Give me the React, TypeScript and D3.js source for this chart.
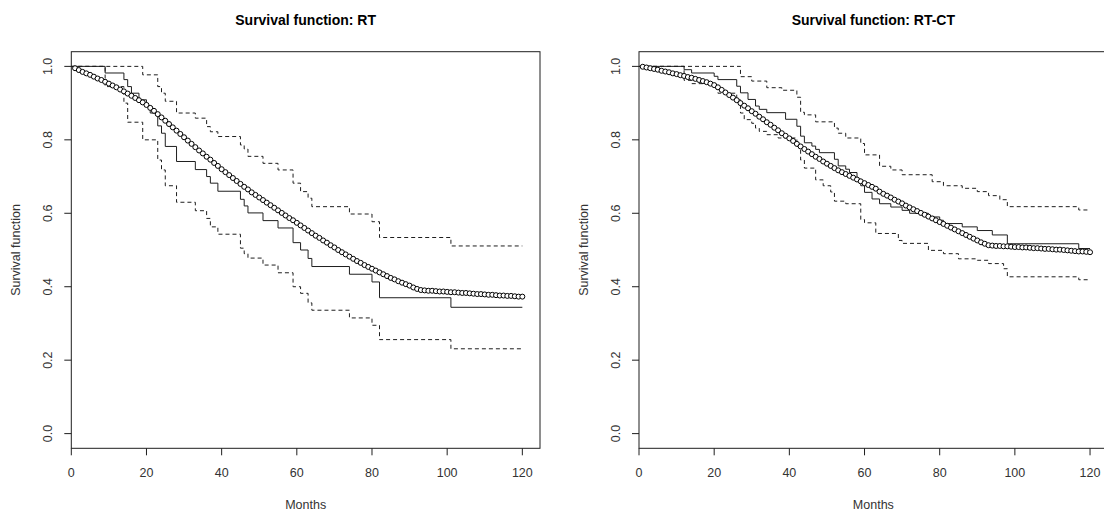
import React from "react";
import * as d3 from "d3";

// ---------- DATA ----------
const xTicks = [0, 20, 40, 60, 80, 100, 120];
const yTicks = [0, 0.2, 0.4, 0.6, 0.8, 1.0];
const titles = ["Survival function: RT", "Survival function: RT-CT"];
const xLabel = "Months";
const yLabel = "Survival function";

// RT: Kaplan-Meier estimate (step times, value after step)
const rtKmTime = [0, 9, 14, 15, 16, 18, 20, 21, 23, 24, 25, 28, 33, 36, 37, 39, 45, 46, 47, 51, 55, 59, 61, 63, 64, 74, 80, 82, 101, 120];
const rtKmSurv = [1, 0.982, 0.964, 0.945, 0.927, 0.909, 0.891, 0.873, 0.838, 0.818, 0.782, 0.741, 0.719, 0.7, 0.682, 0.66, 0.638, 0.62, 0.601, 0.58, 0.56, 0.52, 0.5, 0.477, 0.455, 0.434, 0.413, 0.37, 0.344, 0.344];
const rtUpTime = [0, 19, 23, 24, 25, 28, 33, 36, 37, 39, 45, 46, 47, 51, 55, 59, 61, 63, 64, 74, 80, 82, 101, 120];
const rtUpSurv = [1, 0.977, 0.945, 0.927, 0.905, 0.873, 0.859, 0.836, 0.822, 0.809, 0.786, 0.775, 0.755, 0.736, 0.718, 0.682, 0.659, 0.641, 0.618, 0.598, 0.577, 0.534, 0.511, 0.511];
const rtLoTime = [0, 9, 14, 15, 19, 23, 24, 25, 28, 33, 36, 37, 39, 45, 46, 47, 51, 55, 59, 61, 63, 64, 74, 80, 82, 101, 120];
const rtLoSurv = [1, 0.945, 0.9, 0.848, 0.8, 0.745, 0.718, 0.675, 0.63, 0.607, 0.586, 0.563, 0.543, 0.505, 0.49, 0.478, 0.459, 0.438, 0.4, 0.382, 0.356, 0.336, 0.315, 0.295, 0.256, 0.231, 0.231];
// RT: fitted model, one point per month 1..120
const rtFit = [
  0.995, 0.99, 0.985, 0.981, 0.977, 0.972, 0.967, 0.963, 0.958, 0.953,
  0.948, 0.943, 0.937, 0.932, 0.926, 0.92, 0.914, 0.908, 0.902, 0.895,
  0.887, 0.879, 0.87, 0.861, 0.852, 0.843, 0.834, 0.825, 0.816, 0.807,
  0.798, 0.789, 0.78, 0.771, 0.763, 0.754, 0.746, 0.737, 0.729, 0.72,
  0.712, 0.704, 0.696, 0.688, 0.68, 0.672, 0.665, 0.657, 0.65, 0.643,
  0.636, 0.629, 0.622, 0.615, 0.608, 0.601, 0.594, 0.587, 0.581, 0.574,
  0.567, 0.56, 0.553, 0.546, 0.539, 0.533, 0.526, 0.52, 0.513, 0.507,
  0.5, 0.494, 0.488, 0.482, 0.476, 0.47, 0.465, 0.459, 0.454, 0.449,
  0.444, 0.439, 0.434, 0.429, 0.424, 0.42, 0.415, 0.411, 0.407, 0.403,
  0.398, 0.394, 0.391, 0.39, 0.389, 0.389, 0.388, 0.387, 0.387, 0.386,
  0.385, 0.385, 0.384, 0.383, 0.383, 0.382, 0.381, 0.38, 0.38, 0.379,
  0.378, 0.378, 0.377, 0.376, 0.376, 0.375, 0.375, 0.374, 0.373, 0.373,
];

// RT-CT
const ctKmTime = [0, 12, 14, 20, 21, 26, 27, 29, 31, 32, 34, 39, 42, 43, 44, 46, 47, 48, 52, 53, 55, 56, 58, 59, 60, 62, 64, 67, 70, 72, 77, 80, 81, 86, 90, 94, 98, 117, 120];
const ctKmSurv = [1, 0.991, 0.982, 0.973, 0.964, 0.946, 0.928, 0.91, 0.892, 0.883, 0.874, 0.856, 0.837, 0.81, 0.792, 0.783, 0.774, 0.765, 0.747, 0.729, 0.72, 0.711, 0.693, 0.675, 0.657, 0.639, 0.626, 0.617, 0.608, 0.6, 0.59, 0.581, 0.572, 0.563, 0.553, 0.541, 0.517, 0.504, 0.504];
const ctUpTime = [0, 27, 30, 34, 38, 42, 43, 44, 47, 52, 53, 55, 59, 60, 64, 67, 70, 78, 81, 86, 90, 93, 96, 98, 117, 120];
const ctUpSurv = [1, 0.972, 0.96, 0.942, 0.935, 0.916, 0.875, 0.868, 0.849, 0.832, 0.818, 0.805, 0.79, 0.759, 0.728, 0.718, 0.705, 0.686, 0.675, 0.668, 0.659, 0.648, 0.637, 0.618, 0.609, 0.609];
const ctLoTime = [0, 12, 14, 20, 21, 26, 27, 28, 30, 31, 32, 34, 37, 42, 43, 44, 47, 49, 51, 52, 55, 59, 60, 63, 69, 70, 77, 81, 85, 90, 93, 97, 98, 117, 120];
const ctLoSurv = [1, 0.962, 0.953, 0.941, 0.927, 0.909, 0.873, 0.855, 0.845, 0.832, 0.823, 0.814, 0.805, 0.782, 0.745, 0.723, 0.691, 0.675, 0.658, 0.633, 0.626, 0.583, 0.574, 0.545, 0.526, 0.518, 0.499, 0.49, 0.476, 0.472, 0.463, 0.449, 0.427, 0.419, 0.419];
const ctFit = [
  0.999, 0.997, 0.995, 0.993, 0.991, 0.988, 0.986, 0.984, 0.981, 0.979,
  0.976, 0.974, 0.971, 0.969, 0.966, 0.963, 0.96, 0.957, 0.953, 0.949,
  0.943, 0.936, 0.929, 0.922, 0.915, 0.908, 0.9, 0.893, 0.886, 0.878,
  0.871, 0.863, 0.856, 0.848, 0.841, 0.833, 0.826, 0.818, 0.811, 0.804,
  0.797, 0.789, 0.782, 0.775, 0.768, 0.761, 0.754, 0.748, 0.741, 0.735,
  0.729, 0.723, 0.717, 0.712, 0.707, 0.702, 0.697, 0.692, 0.687, 0.682,
  0.677, 0.672, 0.667, 0.659, 0.653, 0.648, 0.643, 0.637, 0.632, 0.627,
  0.621, 0.616, 0.611, 0.606, 0.601, 0.596, 0.591, 0.586, 0.581, 0.576,
  0.571, 0.566, 0.561, 0.556, 0.551, 0.546, 0.541, 0.536, 0.531, 0.526,
  0.521, 0.517, 0.513, 0.512, 0.511, 0.511, 0.51, 0.51, 0.509, 0.508,
  0.508, 0.507, 0.507, 0.506, 0.505, 0.505, 0.504, 0.503, 0.503, 0.502,
  0.501, 0.501, 0.5, 0.499, 0.498, 0.497, 0.496, 0.496, 0.495, 0.494,
];

const fitMonths = d3.range(1, 121);

// ---------- DRAWING ----------
const W = 1104;
const H = 514;
const FONT = "Liberation Sans, Arial, sans-serif";
const INK = "#1e1e1e";

type PanelProps = {
  title: string;
  left: number;
  right: number;
  km: [number[], number[]];
  up: [number[], number[]];
  lo: [number[], number[]];
  fit: number[];
};

const TOP = 51.7;
const BOTTOM = 448.3;

function Panel({ title, left, right, km, up, lo, fit }: PanelProps) {
  const x = d3.scaleLinear().domain([0, 124.7]).range([left, right]);
  const y = d3.scaleLinear().domain([-0.04, 1.04]).range([BOTTOM, TOP]);
  const step = d3
    .line<[number, number]>()
    .x((d) => x(d[0]))
    .y((d) => y(d[1]))
    .curve(d3.curveStepAfter);
  const pairs = (s: [number[], number[]]) =>
    s[0].map((t, i) => [t, s[1][i]] as [number, number]);
  const cx = (left + right) / 2;
  const x0 = x(0);
  return (
    <g>
      <text
        x={cx}
        y={20}
        textAnchor="middle"
        dominantBaseline="central"
        fontFamily={FONT}
        fontWeight="bold"
        fontSize={14}
        fill="#000"
      >
        {title}
      </text>
      <rect
        x={left}
        y={TOP}
        width={right - left}
        height={BOTTOM - TOP}
        fill="none"
        stroke={INK}
        strokeWidth={1}
      />
      {xTicks.map((t) => (
        <g key={"x" + t}>
          <line x1={x(t)} x2={x(t)} y1={BOTTOM} y2={BOTTOM + 7} stroke={INK} />
          <text
            x={x(t)}
            y={473}
            textAnchor="middle"
            dominantBaseline="central"
            fontFamily={FONT}
            fontSize={12.5}
            fill="#333"
          >
            {t}
          </text>
        </g>
      ))}
      {yTicks.map((t) => (
        <g key={"y" + t}>
          <line x1={x0 - 7} x2={x0} y1={y(t)} y2={y(t)} stroke={INK} />
          <text
            transform={`translate(${x0 - 23},${y(t)}) rotate(-90)`}
            textAnchor="middle"
            dominantBaseline="central"
            fontFamily={FONT}
            fontSize={12.5}
            fill="#333"
          >
            {t.toFixed(1)}
          </text>
        </g>
      ))}
      <text
        x={cx}
        y={505}
        textAnchor="middle"
        dominantBaseline="central"
        fontFamily={FONT}
        fontSize={12.5}
        fill="#333"
      >
        {xLabel}
      </text>
      <text
        transform={`translate(${x0 - 55},${(TOP + BOTTOM) / 2}) rotate(-90)`}
        textAnchor="middle"
        dominantBaseline="central"
        fontFamily={FONT}
        fontSize={12.5}
        fill="#333"
      >
        {yLabel}
      </text>
      <path d={step(pairs(up)) || ""} fill="none" stroke={INK} strokeWidth={1} strokeDasharray="4,3" />
      <path d={step(pairs(lo)) || ""} fill="none" stroke={INK} strokeWidth={1} strokeDasharray="4,3" />
      <path d={step(pairs(km)) || ""} fill="none" stroke={INK} strokeWidth={1} />
      {fit.map((v, i) => (
        <circle
          key={i}
          cx={x(fitMonths[i])}
          cy={y(v)}
          r={2.5}
          fill="#fff"
          stroke="#000"
          strokeWidth={1}
        />
      ))}
    </g>
  );
}

export default function App() {
  return (
    <svg
      width={W}
      height={H}
      style={{ position: "absolute", left: 0, top: 0, background: "#fff" }}
    >
      <rect x={0} y={0} width={W} height={H} fill="#fff" />
      <Panel
        title={titles[0]}
        left={71.3}
        right={540}
        km={[rtKmTime, rtKmSurv]}
        up={[rtUpTime, rtUpSurv]}
        lo={[rtLoTime, rtLoSurv]}
        fit={rtFit}
      />
      <Panel
        title={titles[1]}
        left={639}
        right={1107.7}
        km={[ctKmTime, ctKmSurv]}
        up={[ctUpTime, ctUpSurv]}
        lo={[ctLoTime, ctLoSurv]}
        fit={ctFit}
      />
    </svg>
  );
}
